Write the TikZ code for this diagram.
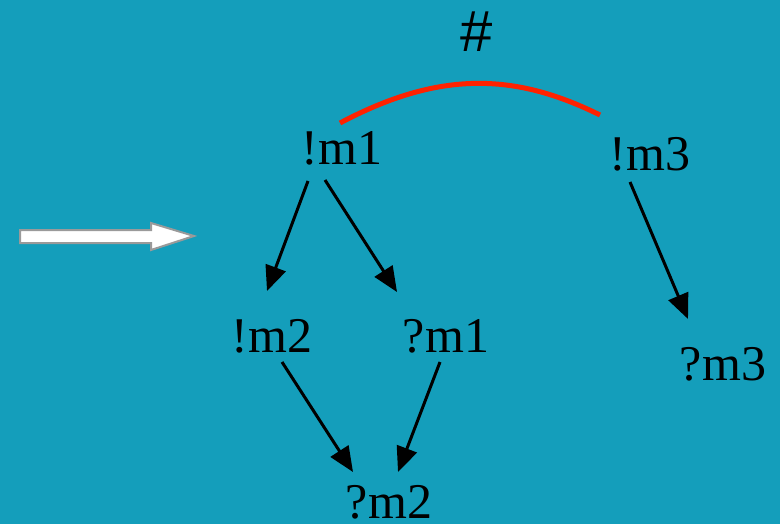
\documentclass[tikz,border=0pt]{standalone}
\usepackage{fontspec}
\setmainfont{Liberation Serif}
\newfontfamily\hashfont{Liberation Sans}
\usetikzlibrary{arrows.meta,calc}
\definecolor{SeaBlue}{HTML}{149EBB}
\definecolor{ConflictRed}{HTML}{FF2200}
\definecolor{EdgeGrey}{HTML}{9A9A9A}

\begin{document}
\begin{tikzpicture}[
	x=0.5pt, y=-0.5pt,
	msg/.style={anchor=base, inner sep=0pt, font=\fontsize{25}{30}\selectfont},
	arrow/.style={-{Triangle[length=12.5pt,width=10.5pt]}, line width=1.5pt},
	conflict/.style={draw=ConflictRed, line width=2.5pt}
]
\fill[SeaBlue] (0,0) rectangle (780,524);
\useasboundingbox (0,0) rectangle (780,524);

\node[msg] (sm1) at (342,164) {!m1};
\node[msg] (sm3) at (650,170) {!m3};
\node[msg] (sm2) at (272,352) {!m2};
\node[msg] (rm1) at (446,352) {?m1};
\node[msg] (rm3) at (723,380) {?m3};
\node[msg] (rm2) at (389,518) {?m2};
\node[anchor=base, inner sep=0pt, font=\hashfont\fontsize{29}{34}\selectfont] (hash) at (477,52) {\#};

% conflict arc between the two sends
\draw[conflict] ([shift={(-2,-41)}]sm1.base) .. controls (440,70) and (515,73) .. ([shift={(-50,-55)}]sm3.base);

\draw[arrow] ([shift={(-34,17)}]sm1.base) -- ([shift={(-5,-61)}]sm2.base);
\draw[arrow] ([shift={(-17,16)}]sm1.base) -- ([shift={(-49,-60)}]rm1.base);
\draw[arrow] ([shift={(-20,12)}]sm3.base) -- ([shift={(-35,-61)}]rm3.base);
\draw[arrow] ([shift={(10,10)}]sm2.base) -- ([shift={(-36,-46)}]rm2.base);
\draw[arrow] ([shift={(-6,10)}]rm1.base) -- ([shift={(9,-46)}]rm2.base);

% white block arrow on the left
\draw[fill=white, draw=EdgeGrey, line width=1pt] (20,230) -- (151,230) -- (151,223) -- (194,236) -- (151,250) -- (151,243) -- (20,243) -- cycle;
\end{tikzpicture}
\end{document}
